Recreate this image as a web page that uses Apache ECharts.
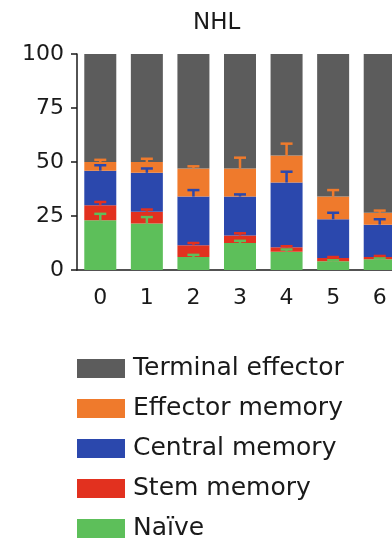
<!DOCTYPE html>
<html>
<head>
<meta charset="utf-8">
<script src="https://cdn.jsdelivr.net/npm/echarts@6/dist/echarts.min.js"></script>
<style>
  html, body { margin: 0; padding: 0; background: #fff; }
  #chart { width: 392px; height: 544px; }
</style>
</head>
<body>
<div id="chart"></div>
<script>
// ---- data ----
const categories = ['0', '1', '2', '3', '4', '5', '6'];
const naive     = [23, 21.5, 6, 12.5, 8.5, 4, 5];
const stem      = [7, 5.5, 5.5, 3.5, 2, 1.5, 1];
const central   = [16, 18, 22.5, 18, 30, 18, 15];
const effector  = [4, 5, 13, 13, 12.5, 10.5, 5.5];
const terminal  = [50, 50, 53, 53, 47, 66, 73.5];
// upward error bar lengths, per segment
const naiveErr    = [3, 3, 1, 1, 1, 0.5, 0.5];
const stemErr     = [1.5, 1, 1, 1, 0.5, 0.5, 0.5];
const centralErr  = [2.5, 2, 3, 1, 5, 3, 2.5];
const effectorErr = [1, 1.5, 1, 5, 5.5, 3, 1];
const yTicks = [0, 25, 50, 75, 100];

const colors = {
  'Naïve': '#5dbf5a',
  'Stem memory': '#e2311f',
  'Central memory': '#2b48ad',
  'Effector memory': '#ef7a2c',
  'Terminal effector': '#5c5c5c'
};

const stackOrder = [
  ['Naïve', naive, naiveErr],
  ['Stem memory', stem, stemErr],
  ['Central memory', central, centralErr],
  ['Effector memory', effector, effectorErr],
  ['Terminal effector', terminal, null]
];

const FONT = 'DejaVu Sans';
const series = [];
const cum = categories.map(() => 0);
stackOrder.forEach(([name, vals, errs]) => {
  series.push({
    name, type: 'bar', stack: 'total', data: vals, barWidth: 32,
    itemStyle: { color: colors[name] }, z: 2
  });
  const tops = vals.map((v, i) => (cum[i] += v));
  if (errs) {
    series.push({
      name: name + ' err', type: 'custom', z: 5,
      data: tops.map((t, i) => [i, t, errs[i]]),
      renderItem: function (params, api) {
        const x = api.value(0), t = api.value(1), e = api.value(2);
        const p0 = api.coord([x, t]);
        const p1 = api.coord([x, t + e]);
        const half = 6;
        const st = { stroke: colors[name], lineWidth: 2.5 };
        return {
          type: 'group',
          children: [
            { type: 'line', shape: { x1: p0[0], y1: p0[1], x2: p1[0], y2: p1[1] }, style: st },
            { type: 'line', shape: { x1: p1[0] - half, y1: p1[1], x2: p1[0] + half, y2: p1[1] }, style: st }
          ]
        };
      }
    });
  }
});

const chart = echarts.init(document.getElementById('chart'), null, { renderer: 'canvas' });
chart.setOption({
  animation: false,
  backgroundColor: '#ffffff',
  title: {
    text: 'NHL', left: 193, top: 12, padding: 0,
    textStyle: { fontFamily: FONT, fontSize: 23, fontWeight: 'normal', color: '#1a1a1a' }
  },
  grid: {
    left: 77, right: -11, top: 54, bottom: 274,
    outerBoundsMode: 'none'
  },
  xAxis: {
    type: 'category', data: categories,
    axisLine: { lineStyle: { color: '#1a1a1a', width: 1.5 } },
    axisTick: { alignWithLabel: true, length: 4, lineStyle: { color: '#1a1a1a', width: 1.5 } },
    axisLabel: { fontFamily: FONT, fontSize: 22, color: '#1a1a1a', margin: 17 }
  },
  yAxis: {
    type: 'value', min: 0, max: 100, interval: 25,
    axisLine: { show: true, lineStyle: { color: '#1a1a1a', width: 1.5 } },
    axisTick: { show: true, length: 6, lineStyle: { color: '#1a1a1a', width: 1.5 } },
    splitLine: { show: false },
    axisLabel: {
      fontFamily: FONT, fontSize: 22, color: '#1a1a1a', margin: 13,
      formatter: v => (yTicks.indexOf(v) >= 0 ? String(v) : '')
    }
  },
  legend: {
    orient: 'vertical', left: 77, top: 356, padding: 0,
    data: ['Terminal effector', 'Effector memory', 'Central memory', 'Stem memory', 'Naïve'],
    icon: 'rect', itemWidth: 48, itemHeight: 19, itemGap: 15,
    selectedMode: false,
    textStyle: { fontFamily: FONT, fontSize: 25, color: '#1a1a1a', padding: [0, 0, 0, 3] }
  },
  series
});
</script>
</body>
</html>
